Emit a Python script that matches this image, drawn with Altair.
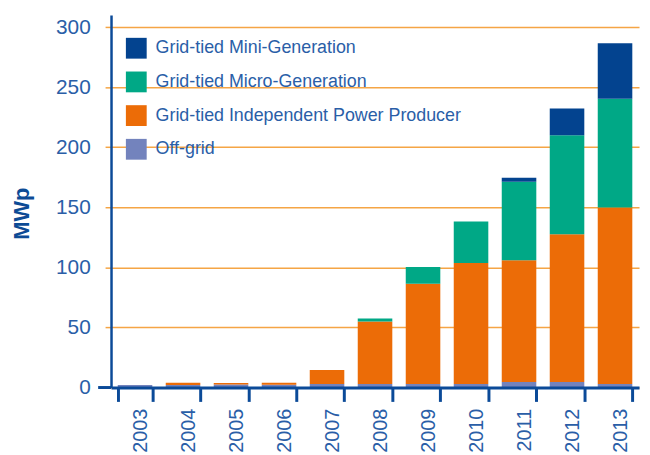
import altair as alt
import pandas as pd

years = ["2003", "2004", "2005", "2006", "2007", "2008", "2009", "2010", "2011", "2012", "2013"]
series_names = [
    "Grid-tied Mini-Generation",
    "Grid-tied Micro-Generation",
    "Grid-tied Independent Power Producer",
    "Off-grid",
]
colors = ["#03438f", "#00a886", "#ec6c07", "#7383bd"]

off_grid = [2.2, 2.0, 2.5, 2.3, 3.0, 3.0, 3.0, 3.0, 4.5, 4.5, 3.0]
ipp = [0.0, 1.9, 1.3, 1.6, 11.6, 52.0, 83.3, 100.6, 101.5, 123.0, 146.8]
micro = [0.0, 0.0, 0.0, 0.0, 0.0, 2.5, 14.0, 34.6, 65.2, 82.4, 90.6]
mini = [0.0, 0.0, 0.0, 0.0, 0.0, 0.0, 0.0, 0.0, 3.3, 22.3, 46.2]

y_ticks = [0, 50, 100, 150, 200, 250, 300]

series_values = {
    "Off-grid": off_grid,
    "Grid-tied Independent Power Producer": ipp,
    "Grid-tied Micro-Generation": micro,
    "Grid-tied Mini-Generation": mini,
}
stack_rank = {
    "Off-grid": 0,
    "Grid-tied Independent Power Producer": 1,
    "Grid-tied Micro-Generation": 2,
    "Grid-tied Mini-Generation": 3,
}

rows = []
for name, vals in series_values.items():
    for yr, v in zip(years, vals):
        rows.append({"year": yr, "series": name, "value": v, "rank": stack_rank[name]})
df = pd.DataFrame(rows)

AX = "#0b4a98"
TXT = "#2a5ea7"
GRID = "#f5a545"
FONT = "Liberation Sans, Arial, sans-serif"

bars = alt.Chart(df).mark_bar().encode(
    x=alt.X(
        "year:N",
        sort=years,
        scale=alt.Scale(paddingInner=0.28, paddingOuter=0.14),
        axis=alt.Axis(
            title=None,
            labelAngle=270,
            labelFont=FONT,
            labelFontSize=20,
            labelColor=TXT,
            labelPadding=7,
            labelOffset=6,
            tickBand="extent",
            tickSize=14,
            tickWidth=3,
            tickColor=AX,
            domainColor=AX,
            domainWidth=3,
            grid=False,
            zindex=1,
        ),
    ),
    y=alt.Y(
        "value:Q",
        stack="zero",
        scale=alt.Scale(domain=[0, 310], nice=False),
        axis=alt.Axis(
            values=y_ticks,
            title="MWp",
            titleFont=FONT,
            titleFontSize=22,
            titleFontWeight="bold",
            titleColor="#0d4b95",
            titleAngle=270,
            titleBaseline="bottom",
            titleX=-78,
            titleY=200,
            labelFont=FONT,
            labelFontSize=21,
            labelColor=TXT,
            labelPadding=15,
            tickSize=6,
            tickWidth=1.5,
            tickColor=GRID,
            domainColor=AX,
            domainWidth=2.5,
            grid=True,
            gridColor=GRID,
            gridWidth=1.5,
        ),
    ),
    color=alt.Color(
        "series:N",
        scale=alt.Scale(domain=series_names, range=colors),
        legend=alt.Legend(
            title=None,
            orient="none",
            legendX=15,
            legendY=23,
            padding=0,
            symbolType="square",
            symbolSize=441,
            symbolStrokeWidth=0,
            symbolOpacity=1,
            labelFont=FONT,
            labelFontSize=18,
            labelColor=TXT,
            labelOffset=9,
            rowPadding=13,
            labelLimit=400,
        ),
    ),
    order=alt.Order("rank:Q", sort="ascending"),
)

base_ext = alt.Chart(pd.DataFrame({"v": [0]})).mark_rule(color=AX, strokeWidth=3).encode(
    y=alt.datum(0),
    x=alt.value(-13),
    x2=alt.value(0),
)

chart = alt.layer(bars, base_ext).properties(
    width=533,
    height=376,
    autosize=alt.AutoSizeParams(type="none"),
    padding={"left": 104, "top": 5, "right": 3, "bottom": 66},
).configure_view(stroke=None)

chart.save("out.html", embed_options={"renderer": "svg", "actions": False})
